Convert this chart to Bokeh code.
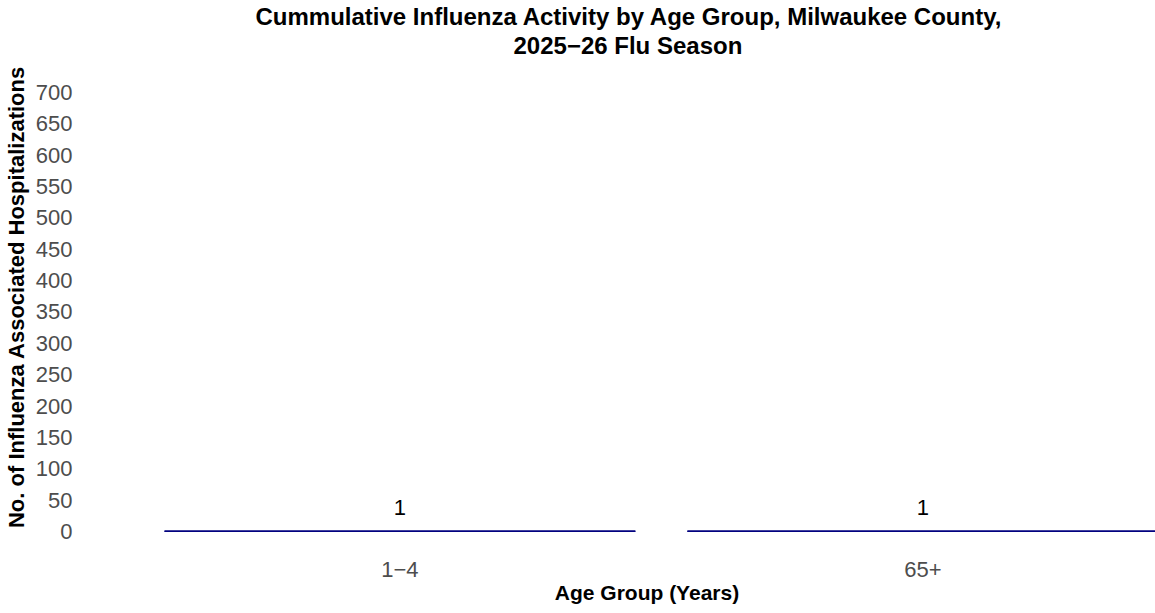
from bokeh.plotting import figure
from bokeh.models import ColumnDataSource, FixedTicker, Range1d, LabelSet, Title
from bokeh.core.properties import value
from bokeh.embed import file_html
from bokeh.resources import INLINE

# ---- data ----
age_groups = ["1\u22124", "65+"]
hospitalizations = [1, 1]
y_ticks = list(range(0, 701, 50))
title_line1 = "Cummulative Influenza Activity by Age Group, Milwaukee County,"
title_line2 = "2025\u221226 Flu Season"

x_pos = [i + 0.5 for i in range(len(age_groups))]
src = ColumnDataSource(dict(x=x_pos, top=hospitalizations,
                            label=[str(v) for v in hospitalizations]))

FONT = "Liberation Sans"

p = figure(frame_width=1017, frame_height=477, output_backend="svg",
           toolbar_location=None,
           x_range=Range1d(0, 1.945), y_range=Range1d(-6.4, 754.2),
           min_border_left=0, min_border_right=0, min_border_top=0,
           min_border_bottom=0, tools="")
p.title = None
t2 = Title(text=title_line2, align="left", text_font=FONT, text_font_size="24px",
           text_font_style="bold", text_color="#000000", offset=375, standoff=0,
           text_line_height=1.0)
t1 = Title(text=title_line1, align="left", text_font=FONT, text_font_size="24px",
           text_font_style="bold", text_color="#000000", offset=117, standoff=0,
           text_line_height=1.0)
p.add_layout(t2, "above")
p.add_layout(t1, "above")

p.vbar(x="x", top="top", bottom=0, width=0.9, source=src,
       fill_color="#00007f", line_color="#00007f", line_width=1)

labels = LabelSet(x="x", y="top", text="label", source=src, text_align="center",
                  text_baseline="bottom", y_offset=16, text_font=value(FONT),
                  text_font_size=value("22px"), text_color="#000000")
p.add_layout(labels)

p.outline_line_color = None
p.background_fill_color = "white"
p.border_fill_color = "white"
p.grid.visible = False

xa = p.xaxis[0]
xa.ticker = FixedTicker(ticks=x_pos)
xa.major_label_overrides = {x: g for x, g in zip(x_pos, age_groups)}
xa.axis_line_color = None
xa.major_tick_line_color = None
xa.minor_tick_line_color = None
xa.major_label_text_font = FONT
xa.major_label_text_font_size = "22px"
xa.major_label_text_color = "#4d4d4d"
xa.major_label_standoff = 20
xa.axis_label = "Age Group (Years)"
xa.axis_label_text_font = FONT
xa.axis_label_text_font_size = "21px"
xa.axis_label_text_font_style = "bold"
xa.axis_label_text_color = "#000000"
xa.axis_label_standoff = 1

ya = p.yaxis[0]
ya.ticker = FixedTicker(ticks=y_ticks)
ya.axis_line_color = None
ya.major_tick_line_color = None
ya.minor_tick_line_color = None
ya.major_label_text_font = FONT
ya.major_label_text_font_size = "22px"
ya.major_label_text_color = "#4d4d4d"
ya.major_label_standoff = 60
ya.axis_label = "No. of Influenza Associated Hospitalizations"
ya.axis_label_text_font = FONT
ya.axis_label_text_font_size = "22px"
ya.axis_label_text_font_style = "bold"
ya.axis_label_text_color = "#000000"
ya.axis_label_standoff = 4

open("out.html", "w").write(file_html(p, INLINE))
